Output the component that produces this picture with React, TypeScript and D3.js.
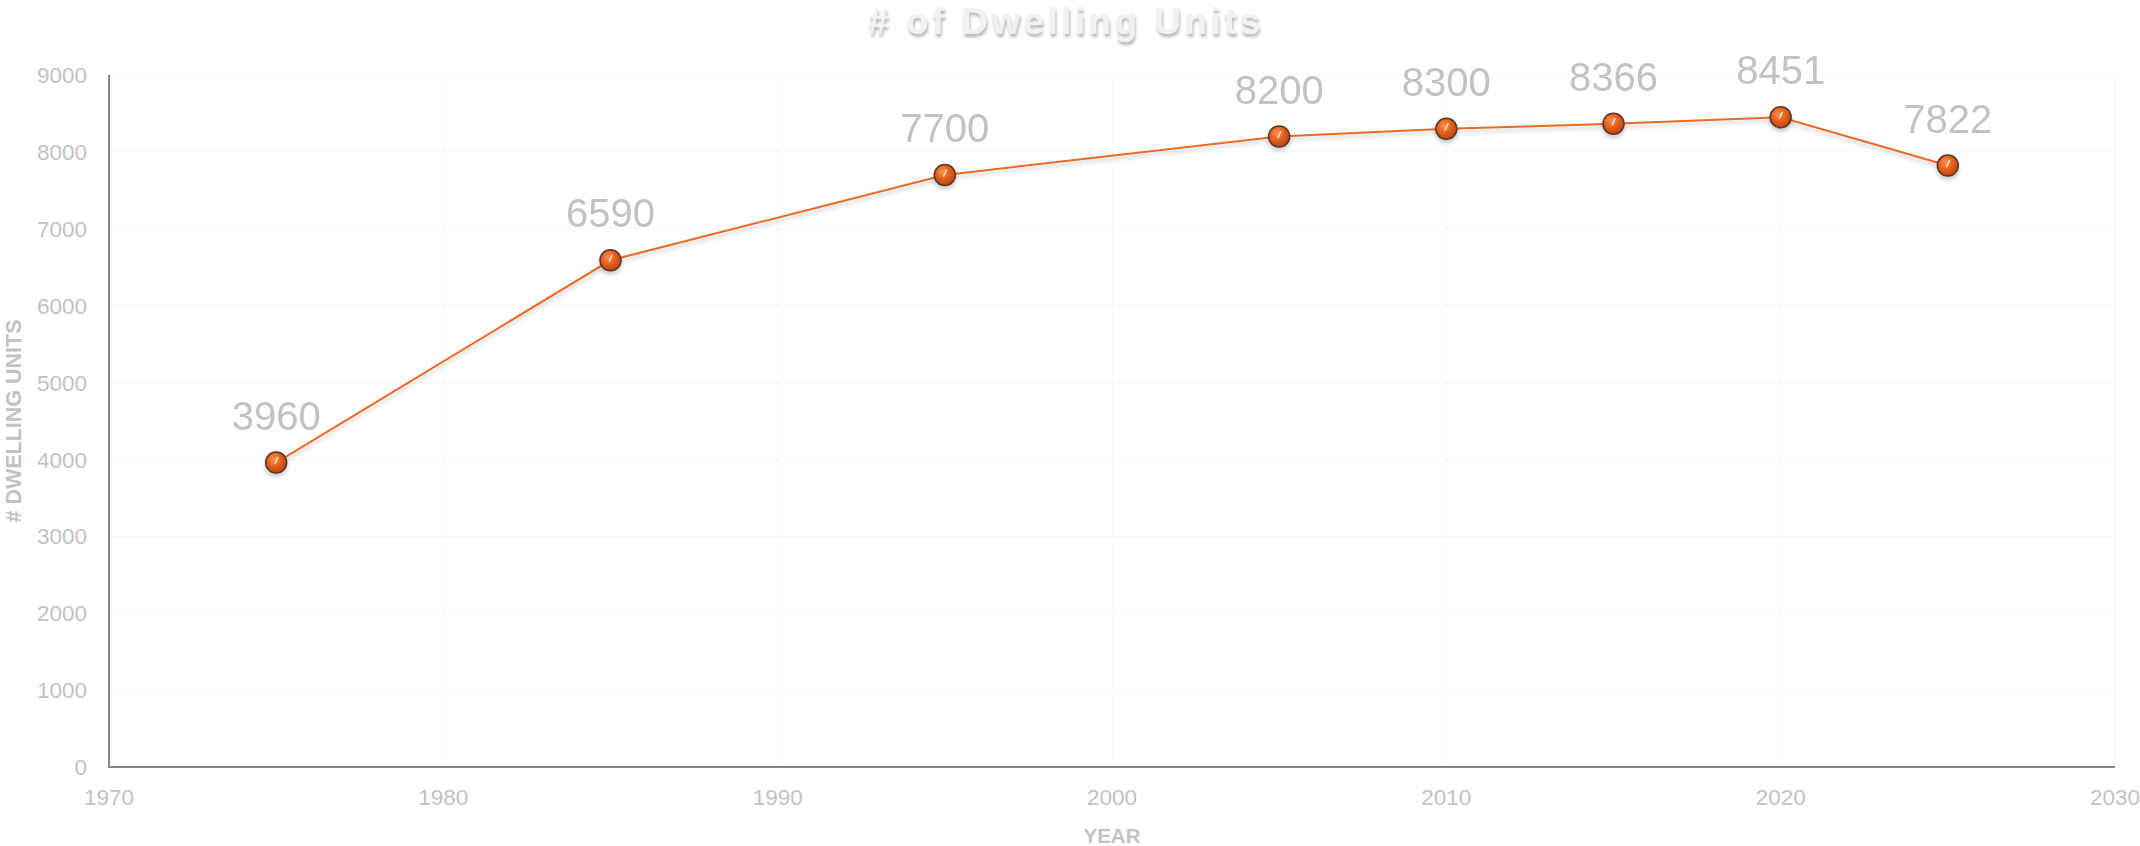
import React from 'react';
import * as d3 from 'd3';

const years = [1975, 1985, 1995, 2005, 2010, 2015, 2020, 2025];
const dwellingUnits = [3960, 6590, 7700, 8200, 8300, 8366, 8451, 7822];
const xTicks = [1970, 1980, 1990, 2000, 2010, 2020, 2030];
const yTicks = [0, 1000, 2000, 3000, 4000, 5000, 6000, 7000, 8000, 9000];

const W = 2140;
const H = 846;
const margin = { top: 75, right: 25, bottom: 79, left: 109 };

const font = '"Liberation Sans", Arial, Helvetica, sans-serif';
const labelGray = '#c2c2c2';

export default function App() {
  const x = d3.scaleLinear()
    .domain([1970, 2030])
    .range([margin.left, W - margin.right]);
  const y = d3.scaleLinear()
    .domain([0, 9000])
    .range([H - margin.bottom, margin.top]);

  const points = years.map((yr, i) => ({ year: yr, value: dwellingUnits[i] }));
  const line = d3.line<{ year: number; value: number }>()
    .x(d => x(d.year))
    .y(d => y(d.value));

  const [x0, x1] = x.range();
  const [y0, y1] = y.range();

  return (
    <svg width={W} height={H} style={{ position: 'absolute', left: 0, top: 0, background: '#fff' }}>
      <defs>
        <filter id="titleShadow" x="-10%" y="-50%" width="120%" height="200%">
          <feDropShadow dx="1" dy="3" stdDeviation="1.6" floodColor="#777" floodOpacity="0.55" />
        </filter>
        <filter id="lineShadow" x="-5%" y="-20%" width="110%" height="140%">
          <feDropShadow dx="0" dy="3" stdDeviation="2" floodColor="#000" floodOpacity="0.22" />
        </filter>
        <radialGradient id="ball" cx="40%" cy="35%" r="70%">
          <stop offset="0%" stopColor="#f7935a" />
          <stop offset="45%" stopColor="#e8631d" />
          <stop offset="100%" stopColor="#b2440e" />
        </radialGradient>
      </defs>

      {/* gridlines */}
      <g stroke="#f6f6f6" strokeWidth={1}>
        {yTicks.filter(t => t > 0).map(t => (
          <line key={'h' + t} x1={x0} x2={x1} y1={y(t)} y2={y(t)} />
        ))}
        {xTicks.filter(t => t > 1970).map(t => (
          <line key={'v' + t} x1={x(t)} x2={x(t)} y1={y1} y2={y0} />
        ))}
      </g>

      {/* axes */}
      <line x1={x0} x2={x0} y1={y1} y2={y0 + 1} stroke="#888" strokeWidth={2} />
      <line x1={x0} x2={x1} y1={y0} y2={y0} stroke="#888" strokeWidth={2} />

      {/* tick labels */}
      <g fontFamily={font} fontSize={22.5} fill={labelGray}>
        {yTicks.map(t => (
          <text key={'yl' + t} x={x0 - 22} y={y(t)} dy="0.36em" textAnchor="end">{t}</text>
        ))}
        {xTicks.map(t => (
          <text key={'xl' + t} x={x(t)} y={y0 + 38} textAnchor="middle">{t}</text>
        ))}
      </g>

      {/* axis titles */}
      <text
        transform={`translate(21,${(y0 + y1) / 2}) rotate(-90)`}
        textAnchor="middle" fontFamily={font} fontSize={21.5} fontWeight="bold" fill={labelGray}
      >
        # DWELLING UNITS
      </text>
      <text
        x={(x0 + x1) / 2} y={H - 3} textAnchor="middle"
        fontFamily={font} fontSize={20.5} fontWeight="bold" fill={labelGray}
      >
        YEAR
      </text>

      {/* chart title */}
      <text
        x={1066} y={34} textAnchor="middle" fontFamily={font} fontSize={37}
        fontWeight="bold" letterSpacing={3.4} fill="#f1f1f1" filter="url(#titleShadow)"
      >
        # of Dwelling Units
      </text>

      {/* series */}
      <path d={line(points) || ''} fill="none" stroke="#ea6b25" strokeWidth={2} filter="url(#lineShadow)" />
      <g filter="url(#lineShadow)">
        {points.map(p => (
          <g key={p.year} transform={`translate(${x(p.year)},${y(p.value)})`}>
            <circle r={10.5} fill="url(#ball)" stroke="#5a3726" strokeWidth={1.5} />
            <line x1={1.5} y1={-5} x2={-1} y2={1} stroke="#ffd9c2" strokeWidth={1.6} strokeLinecap="round" />
          </g>
        ))}
      </g>

      {/* data labels */}
      <g fontFamily={font} fontSize={40} fill={labelGray} textAnchor="middle">
        {points.map(p => (
          <text key={'dl' + p.year} x={x(p.year)} y={y(p.value) - 33}>{p.value}</text>
        ))}
      </g>
    </svg>
  );
}
